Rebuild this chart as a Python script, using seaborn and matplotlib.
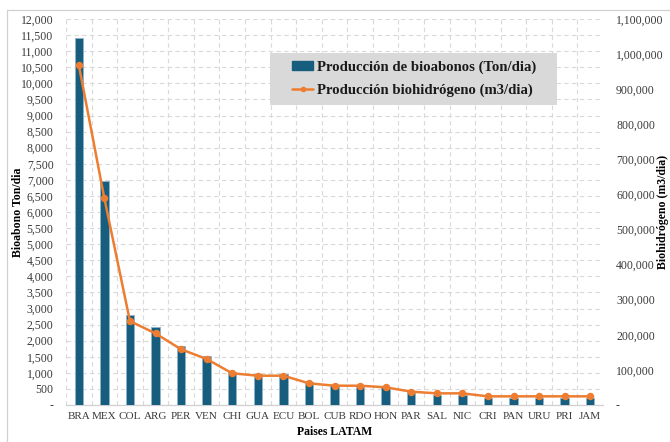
import matplotlib
matplotlib.use("Agg")
import matplotlib.pyplot as plt
from matplotlib.patches import Patch, Rectangle
from matplotlib.lines import Line2D
from matplotlib.ticker import FuncFormatter, MultipleLocator
import seaborn as sns
import pandas as pd
import numpy as np

paises = ["BRA", "MEX", "COL", "ARG", "PER", "VEN", "CHI", "GUA", "ECU", "BOL",
          "CUB", "RDO", "HON", "PAR", "SAL", "NIC", "CRI", "PAN", "URU", "PRI", "JAM"]
bioabono_ton_dia = [11400, 6950, 2800, 2420, 1830, 1510, 1030, 970, 970, 700,
                    620, 620, 570, 400, 310, 310, 230, 230, 230, 230, 230]
biohidrogeno_m3_dia = [969000, 589000, 239000, 204000, 158700, 131000, 90300, 83500, 83500, 61800,
                       55000, 55000, 50400, 38000, 33200, 33200, 24700, 24700, 24700, 24700, 24700]

df = pd.DataFrame({"pais": paises, "bioabono": bioabono_ton_dia, "hidrogeno": biohidrogeno_m3_dia})

sns.set_theme(style="white")
plt.rcParams["font.family"] = ["Liberation Serif", "DejaVu Serif"]

bar_color = "#175e7e"
line_color = "#ed7d31"
grid_color = "#d9d9d9"
text_color = "#3a3a3a"

fig = plt.figure(figsize=(6.7, 4.42), dpi=100)
ax = fig.add_axes([66 / 670, 1 - 405 / 442, (603 - 66) / 670, (405 - 19) / 442])

sns.barplot(data=df, x="pais", y="bioabono", ax=ax, color=bar_color, width=0.33,
            edgecolor="#8fb3c8", linewidth=0.7, saturation=1, zorder=3)

ax.set_ylim(0, 12000)
ax.set_xlim(-0.5, len(paises) - 0.5)
ax.yaxis.set_major_locator(MultipleLocator(500))
ax.yaxis.set_major_formatter(FuncFormatter(lambda v, p: "-" if v == 0 else f"{int(v):,}"))

# dashed grid: horizontal at each tick, vertical at even intervals
ax.grid(axis="y", color=grid_color, linestyle=(0, (4, 3)), linewidth=0.8, zorder=0)
for xv in np.linspace(-0.5, len(paises) - 0.5, 22):
    ax.axvline(xv, color=grid_color, linestyle=(0, (4, 3)), linewidth=0.8, zorder=0)

for s in ["top", "left", "right"]:
    ax.spines[s].set_visible(False)
ax.spines["bottom"].set_color("#d0d0d0")
ax.spines["bottom"].set_linewidth(0.9)

ax.tick_params(axis="y", length=0, pad=9, labelsize=8.5, labelcolor=text_color)
ax.tick_params(axis="x", length=0, pad=5, labelsize=8, labelcolor=text_color)

ax.set_xlabel("Paises LATAM", fontsize=8.5, fontweight="bold", color="black")
ax.set_ylabel("Bioabono Ton/dia", fontsize=8.5, fontweight="bold", color="black")
ax.xaxis.set_label_coords(0.5, -0.055)
ax.yaxis.set_label_coords(-0.078, 0.5)

ax2 = ax.twinx()
sns.pointplot(data=df, x="pais", y="hidrogeno", ax=ax2, color=line_color,
              markers="o", markersize=4, linewidth=1.8, zorder=4)
ax2.set_ylim(0, 1100000)
ax2.set_xlim(-0.5, len(paises) - 0.5)
ax2.yaxis.set_major_locator(MultipleLocator(100000))
ax2.yaxis.set_major_formatter(FuncFormatter(lambda v, p: "-" if v == 0 else f"{int(v):,}"))
ax2.tick_params(axis="y", length=0, pad=9.4, labelsize=8.5, labelcolor=text_color)
for s in ["top", "left", "right", "bottom"]:
    ax2.spines[s].set_visible(False)
ax2.set_ylabel("Biohidrógeno (m3/dia)", fontsize=8.5, fontweight="bold", color="black",
               rotation=90)
ax2.yaxis.set_label_coords(1.1, 0.5)

# legend: grey panel plus frameless legend on top
ax2.add_patch(Rectangle((0.380, 0.777), 0.914 - 0.380, 0.912 - 0.777,
                        transform=ax2.transAxes, facecolor="#d9d9d9", edgecolor="none",
                        zorder=5, clip_on=False))
handles = [
    Patch(facecolor=bar_color, edgecolor=bar_color),
    Line2D([0], [0], color=line_color, linewidth=1.8, marker="o", markersize=3),
]
labels = ["Producción de bioabonos (Ton/dia)", "Producción biohidrógeno (m3/dia)"]
leg = ax2.legend(handles, labels, loc="center left", bbox_to_anchor=(0.421, 0.845),
                 frameon=False, prop={"weight": "bold", "size": 10.6},
                 handlelength=1.45, handleheight=0.55, borderpad=0, labelspacing=0.65,
                 handletextpad=0.25, borderaxespad=0)
leg.set_zorder(6)
for t in leg.get_texts():
    t.set_color("#1a1a1a")

# outer chart border
fig.add_artist(Line2D([7 / 670, 7 / 670], [0, 1 - 10 / 442], transform=fig.transFigure,
                      color="#d0d0d0", linewidth=0.9))
fig.add_artist(Line2D([7 / 670, 1], [1 - 10 / 442, 1 - 10 / 442], transform=fig.transFigure,
                      color="#d0d0d0", linewidth=0.9))

fig.savefig("out.png", dpi=100)
